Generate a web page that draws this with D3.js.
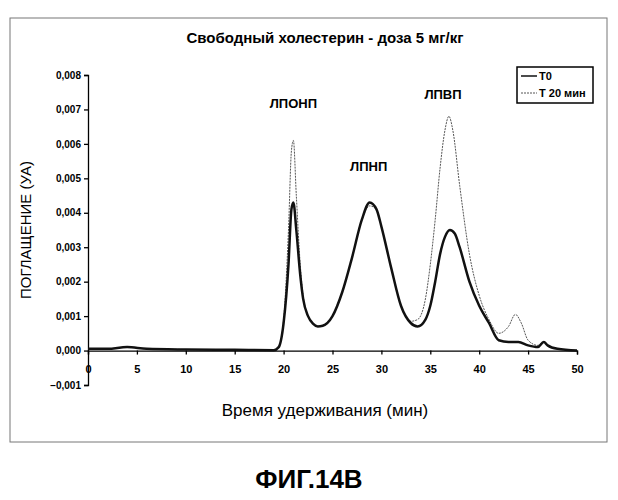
<!DOCTYPE html><html><head><meta charset="utf-8"><script src="https://cdn.jsdelivr.net/npm/d3@7"></script>
<style>body{margin:0;background:#fff}</style></head><body><svg id="c" width="618" height="500"></svg>
<script>
const timeT0 = [0,2,4,6,10,15,19,19.5,20,20.5,20.8,21,21.3,21.7,22,22.5,23,23.5,24,25,26,27,28,28.8,29.5,30,31,32,33,33.7,34.5,35,35.5,36,36.5,37,37.5,38,39,40,41,42,43,44,45,46,46.6,47,48,50];
const valT0 = [0.00005,0.00005,0.0001,0.00005,0.00003,0.00002,0.00001,0.0001,0.0008,0.0025,0.0041,0.0043,0.0035,0.0022,0.0015,0.001,0.00078,0.0007,0.00072,0.001,0.0017,0.0027,0.0038,0.0043,0.0041,0.0036,0.0024,0.0013,0.0008,0.0007,0.0009,0.0013,0.002,0.0028,0.0033,0.0035,0.0034,0.003,0.002,0.0013,0.0008,0.0003,0.00025,0.00025,0.00015,0.0001,0.00025,0.00015,0.00005,0];
const timeT20 = [0,2,4,6,10,15,19,19.5,20,20.5,20.8,21,21.3,21.7,22,22.5,23,23.5,24,25,26,27,28,28.8,29.5,30,31,32,33,33.7,34.5,35,35.5,36,36.5,36.9,37.3,38,39,40,41,42,43,43.7,44.3,45,46,46.6,47,48,50];
const valT20 = [0.00005,0.00005,0.0001,0.00005,0.00003,0.00002,0.00001,0.0001,0.0009,0.0035,0.0058,0.0061,0.0045,0.0025,0.0016,0.001,0.0008,0.0007,0.00072,0.001,0.0017,0.0027,0.0038,0.0042,0.0041,0.0036,0.0024,0.0013,0.00085,0.0009,0.0015,0.0025,0.0038,0.0053,0.0064,0.0068,0.0064,0.0048,0.0028,0.0016,0.0009,0.0005,0.0007,0.00105,0.0008,0.0003,0.00015,0.00025,0.00015,0.00005,0];
const xTicks = [0,5,10,15,20,25,30,35,40,45,50];
const yTicks = [-0.001,0,0.001,0.002,0.003,0.004,0.005,0.006,0.007,0.008];
const peakLabels = [{t:"ЛПОНП",x:21,y:0.00705},{t:"ЛПНП",x:28.7,y:0.0052},{t:"ЛПВП",x:36.3,y:0.0073}];

const svg=d3.select("#c"), F="Liberation Sans, Arial, sans-serif";
svg.append("rect").attr("x",10).attr("y",18).attr("width",597).attr("height",424).attr("fill","none").attr("stroke","#777").attr("stroke-width",1);
const x=d3.scaleLinear().domain([0,50]).range([88,577]);
const y=d3.scaleLinear().domain([-0.001,0.008]).range([385,75]);
const fmt=d=>d3.format(".3f")(d).replace(".",",");
const ya=svg.append("g").attr("transform","translate(88,0)").call(d3.axisLeft(y).tickValues(yTicks).tickFormat(fmt).tickSize(4));
ya.selectAll("text").attr("font-family",F).attr("font-size",10).attr("font-weight","bold");
const xa=svg.append("g").attr("transform",`translate(0,${y(0)})`).call(d3.axisBottom(x).tickValues(xTicks).tickFormat(d3.format("d")).tickSize(4));
xa.selectAll("text").attr("font-family",F).attr("font-size",11).attr("font-weight","bold").attr("dy","1.4em");
svg.selectAll(".domain,.tick line").attr("stroke","#000").attr("stroke-width",1.3);
const line=d3.line().x(d=>x(d[0])).y(d=>y(d[1])).curve(d3.curveMonotoneX);
svg.append("path").datum(timeT20.map((t,i)=>[t,valT20[i]])).attr("d",line).attr("fill","none").attr("stroke","#555").attr("stroke-width",1).attr("stroke-dasharray","2,1");
svg.append("path").datum(timeT0.map((t,i)=>[t,valT0[i]])).attr("d",line).attr("fill","none").attr("stroke","#111").attr("stroke-width",2.5);
peakLabels.forEach(p=>svg.append("text").attr("x",x(p.x)).attr("y",y(p.y)).attr("text-anchor","middle").attr("font-family",F).attr("font-size",13).attr("font-weight","bold").text(p.t));
svg.append("text").attr("x",325).attr("y",43).attr("text-anchor","middle").attr("font-family",F).attr("font-size",15).attr("font-weight","bold").text("Свободный холестерин - доза 5 мг/кг");
svg.append("text").attr("x",325).attr("y",416).attr("text-anchor","middle").attr("font-family",F).attr("font-size",17).text("Время удерживания (мин)");
svg.append("text").attr("transform","translate(31,230) rotate(-90)").attr("text-anchor","middle").attr("font-family",F).attr("font-size",15).text("ПОГЛАЩЕНИЕ (УА)");
svg.append("text").attr("x",309).attr("y",488).attr("text-anchor","middle").attr("font-family",F).attr("font-size",26).attr("font-weight","bold").text("ФИГ.14В");
const lg=svg.append("g");
lg.append("rect").attr("x",517).attr("y",67).attr("width",76).attr("height",36).attr("fill","#fff").attr("stroke","#000").attr("stroke-width",1.5);
lg.append("line").attr("x1",521).attr("x2",537).attr("y1",76).attr("y2",76).attr("stroke","#111").attr("stroke-width",1.5);
lg.append("line").attr("x1",521).attr("x2",537).attr("y1",93).attr("y2",93).attr("stroke","#555").attr("stroke-dasharray","2,1");
lg.append("text").attr("x",539).attr("y",80).attr("font-family",F).attr("font-size",11).attr("font-weight","bold").text("T0");
lg.append("text").attr("x",539).attr("y",97).attr("font-family",F).attr("font-size",11).attr("font-weight","bold").text("T 20 мин");
</script></body></html>
